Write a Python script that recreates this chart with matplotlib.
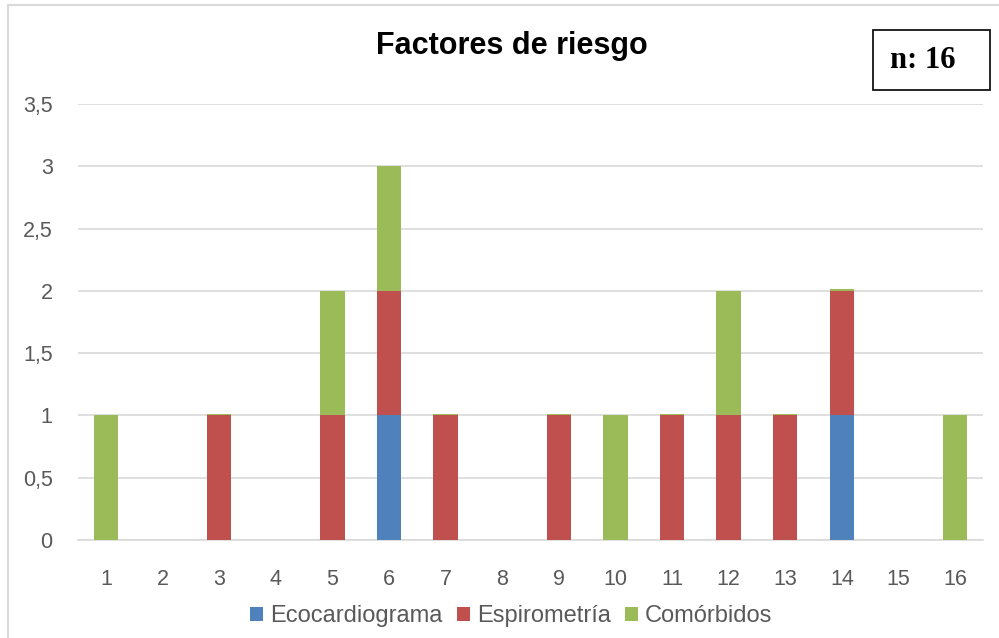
import numpy as np
import matplotlib
matplotlib.use('Agg')
import matplotlib.pyplot as plt
from matplotlib.patches import Rectangle

plt.rcParams['font.family'] = ['Liberation Sans', 'DejaVu Sans']

categories = [str(i) for i in range(1, 17)]
ecocardiograma = [0, 0, 0, 0, 0, 1, 0, 0, 0, 0, 0, 0, 0, 1, 0, 0]
espirometria = [0, 0, 1, 0, 1, 1, 1, 0, 1, 0, 1, 1, 1, 1, 0, 0]
comorbidos = [1, 0, 0.015, 0, 1, 1, 0.015, 0, 0.015, 1, 0.015, 1, 0.015, 0.015, 0, 1]
yticks = [0, 0.5, 1, 1.5, 2, 2.5, 3, 3.5]
ytick_labels = ['0', '0,5', '1', '1,5', '2', '2,5', '3', '3,5']

W, H = 999, 638
fig = plt.figure(figsize=(W / 100, H / 100), dpi=100)
ax = fig.add_axes([0.0778, 0.1536, 0.9065, 0.6834])

x = np.arange(len(categories))
w = 0.43
eco = np.array(ecocardiograma)
esp = np.array(espirometria)
com = np.array(comorbidos)
ax.bar(x, eco, w, color='#4F81BD', label='Ecocardiograma', zorder=3)
ax.bar(x, esp, w, bottom=eco, color='#C0504D', label='Espirometría', zorder=3)
ax.bar(x, com, w, bottom=eco + esp, color='#9BBB59', label='Comórbidos', zorder=3)

ax.set_xlim(-0.5, len(categories) - 0.5)
ax.set_ylim(0, 3.5)
ax.set_yticks(yticks)
ax.set_yticklabels(ytick_labels)
ax.set_xticks(x)
ax.set_xticklabels(categories)
ax.tick_params(axis='both', length=0, labelsize=15.5, colors='#595959')
ax.tick_params(axis='x', pad=21)
ax.tick_params(axis='y', pad=18)
ax.yaxis.grid(True, color='#D9D9D9', linewidth=1.2, zorder=0)
for s in ['top', 'right', 'left']:
    ax.spines[s].set_visible(False)
ax.spines['bottom'].set_color('#D9D9D9')
ax.spines['bottom'].set_linewidth(1.2)

fig.text(0.512, 1 - 46 / H, 'Factores de riesgo', ha='center', va='center',
         fontsize=22, fontweight='bold', color='black')

# n box
fig.add_artist(Rectangle((873 / W, 1 - 90 / H), 117 / W, 60 / H,
                         transform=fig.transFigure, fill=False,
                         edgecolor='black', linewidth=1.2))
fig.text(923 / W, 1 - 60 / H, 'n: 16', ha='center', va='center',
         fontsize=22, fontweight='bold', family='Liberation Serif')

# outer chart border (only top and left visible)
fig.add_artist(Rectangle((8 / W, -0.1), 1.2, 1.1 - 5 / H, transform=fig.transFigure,
                         fill=False, edgecolor='#D9D9D9', linewidth=1.5, clip_on=False))

leg = fig.legend(loc='center', bbox_to_anchor=(0.512, 1 - 616 / H), ncol=3,
                 frameon=False, fontsize=17, handlelength=0.55, handleheight=0.55,
                 handletextpad=0.3, columnspacing=0.6)
for t in leg.get_texts():
    t.set_color('#595959')

fig.savefig('out.png', dpi=100)
